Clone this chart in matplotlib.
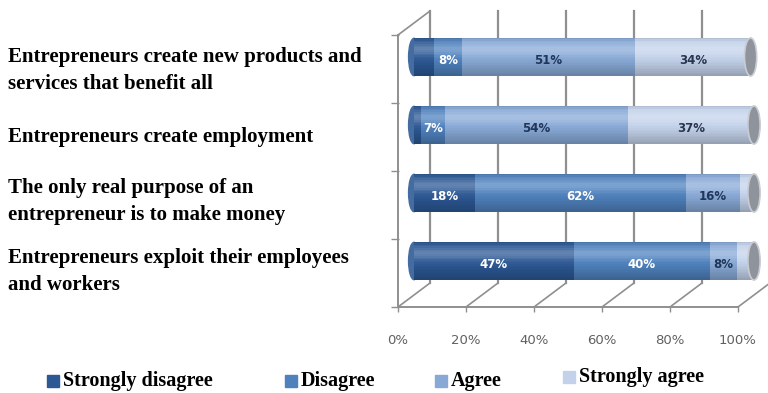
import numpy as np
import matplotlib
matplotlib.use("Agg")
import matplotlib.pyplot as plt
from matplotlib.patches import Ellipse, Rectangle
from matplotlib.transforms import ScaledTranslation
from matplotlib.colors import to_rgb

# ── data ────────────────────────────────────────────────────────────────
STATEMENTS = [
    "Entrepreneurs create new products and\nservices that benefit all",
    "Entrepreneurs create employment",
    "The only real purpose of an\nentrepreneur is to make money",
    "Entrepreneurs exploit their employees\nand workers",
]
SERIES = ["Strongly disagree", "Disagree", "Agree", "Strongly agree"]
strongly_disagree = [6, 2, 18, 47]
disagree = [8, 7, 62, 40]
agree = [51, 54, 16, 8]
strongly_agree = [34, 37, 4, 5]
TICKS = [0, 20, 40, 60, 80, 100]

COLORS = ["#2c5894", "#4f81bd", "#88a9d6", "#c3d2ea"]
LABEL_COLORS = ["white", "white", "#1f3559", "#2b3550"]
GRID = "#8f8f8f"

W, H, DPI = 768, 393, 100
fig = plt.figure(figsize=(W / DPI, H / DPI), dpi=DPI)

# mid-depth plane of the 3D box, in pixels
x0, x1 = 414, 754
ytop, ybot = 23, 295
ax = fig.add_axes([x0 / W, (H - ybot) / H, (x1 - x0) / W, (ybot - ytop) / H])
ax.set_xlim(0, 100)
ax.set_ylim(-0.5, 3.5)
ax.set_axis_off()

DX, DY = 16, 12  # half depth offset, px
front = ax.transData + ScaledTranslation(-DX / DPI, -DY / DPI, fig.dpi_scale_trans)
back = ax.transData + ScaledTranslation(DX / DPI, DY / DPI, fig.dpi_scale_trans)
fshift = lambda dx, dy: front + ScaledTranslation(dx / DPI, dy / DPI, fig.dpi_scale_trans)

# back wall gridlines
for t in TICKS:
    ax.plot([t, t], [-0.5, 3.5], color=GRID, lw=1.6, transform=back, clip_on=False, zorder=1)
# floor
ax.plot([0, 100], [-0.5, -0.5], color=GRID, lw=1.4, transform=front, clip_on=False, zorder=1)
for t in TICKS:
    ax.annotate("", xy=(t, -0.5), xycoords=back, xytext=(t, -0.5), textcoords=front,
                arrowprops=dict(arrowstyle="-", color=GRID, lw=1.2, shrinkA=0, shrinkB=0))
    ax.text(t, -0.5, f"{t}%", transform=fshift(0, -33), ha="center", va="center",
            fontsize=9.5, color="#606060", clip_on=False)
    ax.plot([t], [-0.5], marker="|", ms=5, color=GRID, transform=fshift(0, -2), clip_on=False)
# left wall
ax.plot([0, 0], [-0.5, 3.5], color=GRID, lw=1.4, transform=front, clip_on=False, zorder=1)
ax.annotate("", xy=(0, 3.5), xycoords=back, xytext=(0, 3.5), textcoords=front,
            arrowprops=dict(arrowstyle="-", color=GRID, lw=1.2, shrinkA=0, shrinkB=0))
for b in np.arange(-0.5, 3.6, 1.0):
    ax.plot([0], [b], marker="_", ms=6, color=GRID, transform=fshift(-3, 0), clip_on=False)

# cylinders
BAR_H = 0.56
NSTRIP = 24
ypos = [3, 2, 1, 0]
values = np.array([strongly_disagree, disagree, agree, strongly_agree], dtype=float)


def shade(c, t):
    c = np.array(to_rgb(c))
    hi = 0.26 * np.exp(-((t - 0.3) / 0.17) ** 2)
    dk = 0.6 * max(0.0, t - 0.5) ** 1.3 + 0.12 * max(0.0, 0.1 - t) * 10
    c = c * (1 - dk)
    return tuple(c + (1 - c) * hi)


lefts = np.zeros(4)
for si, name in enumerate(SERIES):
    vals = values[si]
    # rounded left end, only for the first series
    if si == 0:
        for y in ypos:
            ax.add_patch(Ellipse((0, y), 3.2, BAR_H * 0.98, color=shade(COLORS[0], 0.45),
                                 zorder=2, clip_on=False))
    for k in range(NSTRIP):
        t = (k + 0.5) / NSTRIP
        yk = [y + BAR_H / 2 - (k + 0.5) * BAR_H / NSTRIP for y in ypos]
        ax.barh(yk, vals, left=lefts, height=BAR_H / NSTRIP * 1.3,
                color=shade(COLORS[si], t), lw=0, zorder=3, antialiased=False)
    for y, v, l in zip(ypos, vals, lefts):
        if v >= 7:
            ax.text(l + v / 2, y - 0.05, f"{int(v)}%", ha="center", va="center",
                    fontsize=8.5, fontweight="bold", color=LABEL_COLORS[si], zorder=5)
    lefts += vals

# grey end caps
for y, l in zip(ypos, lefts):
    ax.add_patch(Ellipse((l, y), 3.6, BAR_H, fc="#8e939c", ec="#c9ccd3", lw=1.2,
                         zorder=4, clip_on=False))

# statement labels
SERIF = "Liberation Serif"
label_y = [62, 142, 193, 263]
for s, yb in zip(STATEMENTS, label_y):
    lines = s.split("\n")
    for i, ln in enumerate(lines):
        fig.text(8 / W, 1 - (yb + 27 * i) / H, ln, fontsize=15, fontweight="bold",
                 family=SERIF, va="baseline", ha="left")

# legend
leg_x = [53, 291, 441, 569]
leg_y = [386, 386, 386, 382]
for c, name, lx, ly in zip(COLORS, SERIES, leg_x, leg_y):
    fig.patches.append(Rectangle(((lx - 6) / W, 1 - (ly + 1) / H), 12 / W, 12 / H,
                                 transform=fig.transFigure, color=c))
    fig.text((lx + 10) / W, 1 - ly / H, name, fontsize=14.5, fontweight="bold",
             family=SERIF, va="baseline", ha="left")

fig.savefig("out.png", dpi=DPI)
